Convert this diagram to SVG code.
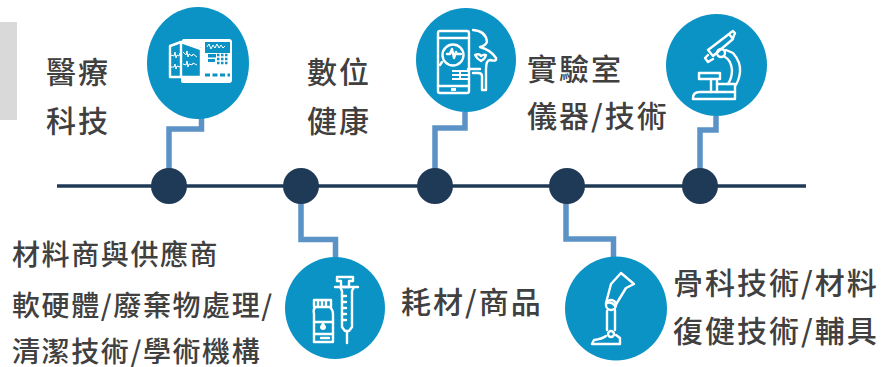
<svg xmlns="http://www.w3.org/2000/svg" width="885" height="367" viewBox="0 0 885 367">
<style>
.t{font-family:"Noto Sans CJK TC","Noto Sans",sans-serif;font-size:30px;font-weight:500;fill:#404040;letter-spacing:2px}
.s{font-size:28px;letter-spacing:1.600px}
.c{fill:#0a93c4}
.d{fill:#1f3a56}
.l{fill:none;stroke:#5b93c7;stroke-width:5.500}
.i{fill:none;stroke:#fff;stroke-width:2.400;stroke-linejoin:round;stroke-linecap:round}
.f{fill:#fff}
.w{fill:none;stroke:#fff;stroke-width:1}
</style>
<rect x="0" y="22" width="17" height="98" fill="#d9d9d9"/>
<g id="connectors">
<path class="l" d="M169 186V129H201.500V115"/>
<path class="l" d="M301 186V239.500H335.500V258"/>
<path class="l" d="M435 186V128H465V112"/>
<path class="l" d="M566 186V239H613.500V257"/>
<path class="l" d="M700 186V130H716V116"/>
<path d="M57 186H806" fill="none" stroke="#1f3a56" stroke-width="3.500"/>
</g>
<g id="dot1"><circle class="d" cx="169" cy="186" r="18"/></g>
<g id="dot2"><circle class="d" cx="301" cy="186" r="18"/></g>
<g id="dot3"><circle class="d" cx="435" cy="186" r="18"/></g>
<g id="dot4"><circle class="d" cx="567" cy="186" r="18"/></g>
<g id="dot5"><circle class="d" cx="700" cy="186" r="18"/></g>
<g id="node-medtech">
<ellipse class="c" cx="198" cy="63" rx="51" ry="56"/>
<path class="f" d="M183 39H229Q232 39 232 42V80Q232 83 229 83H183Q181 83 181 81V76H202V48L181 42Z"/>
<rect x="205" y="42" width="25" height="11" class="c"/>
<path class="w" d="M207 47l2-3 2 5 2-4 2 3 2-4 2 4 2-3 2 3 2-2"/>
<rect x="208" y="54" width="8" height="3.500" style="fill:#0a93c4"/>
<rect x="208" y="59" width="7" height="3" style="fill:#0a93c4"/>
<path d="M217 55h12M217 59h12M217 63h12" stroke="#0a93c4" stroke-width="2.500" stroke-dasharray="2.500 1.500" fill="none"/>
<path d="M205 75h25" stroke="#0a93c4" stroke-width="3" stroke-dasharray="5 2.500" fill="none"/>
<path class="i" d="M170 46L181 42V77L170 77ZM181 42L201 49V77L181 77" stroke-width="1.800"/>
<path class="w" d="M171 55l3 1 1-4 1 6 1-3 2 1 1-3 1 3M183 52l3 3 1-4 1 6 1-3 3 2 1-2 4 3M171 67l3 0 1-3 1 5 1-3 3 1M183 64l3 1 1-4 1 6 1-3 3 1 1-2 4 2"/>
</g>
<g id="node-digital">
<ellipse class="c" cx="466" cy="60" rx="50" ry="52"/>
<rect class="i" x="438" y="31" width="31" height="62" rx="2"/>
<path class="i" d="M438 38H469M438 86H469" stroke-width="1.800"/>
<rect x="451" y="88" width="5" height="3" class="f"/>
<circle class="i" cx="453" cy="55" r="10.500"/>
<path class="i" d="M442 62L440 65M447 54h3l2-5 2 9 2-6 1 2h4" stroke-width="1.800"/>
<path d="M452 71H468M452 75H468M452 79H468M460 71V79" stroke="#fff" stroke-width="2" fill="none"/>
<path class="i" d="M473 30Q486 31 487 42Q485 46 480 47Q491 50 496 58Q497 62 490 60Q486 60 486 70V90H482V76Q482 73 478 73H473" stroke-width="2"/>
<path class="i" d="M475 55Q479 53 481 56Q484 54 486 55Q485 59 481 61Q477 59 475 55Z" stroke-width="1.800"/>
<path class="i" d="M468 69H480" stroke-width="2"/>
</g>
<g id="node-lab">
<ellipse class="c" cx="716.500" cy="65" rx="50.500" ry="51"/>
<path class="i" d="M708 50L729 34L733 39L713 56Z"/>
<path class="i" d="M730 33L733 31L735 33L733 38M708 55L705 58L708 62L713 59"/>
<circle class="i" cx="721" cy="53" r="4"/>
<path class="i" d="M726 50L733 53Q741 62 740 72Q739 81 735 86"/>
<path class="i" d="M725 57Q731 60 732 70Q732 78 728 84"/>
<path class="i" d="M699 73H720V79H699Z"/>
<path class="i" d="M711 79V92M717 79V92"/>
<path class="i" d="M693 98Q693 92 700 92H735V99H693Z"/>
<path class="i" d="M717 84H735V92"/>
</g>
<g id="node-consumables">
<ellipse class="c" cx="335" cy="308" rx="50" ry="51"/>
<path class="i" d="M337 277H353V281H349V287H341V281H337Z" stroke-width="2"/>
<path class="i" d="M335 287H358M340 287L342 291V327L345 331H349L352 327V291L354 287" stroke-width="2"/>
<path class="i" d="M342 296h4M342 302h4M342 308h4M342 314h4M342 320h4" stroke-width="1.800"/>
<path class="i" d="M347 331V343" stroke-width="2"/>
<path class="i" d="M314 300H331V307H314ZM315 307H330Q333 310 333 314V342H314V314Q313 310 315 307Z" stroke-width="2"/>
<path class="i" d="M318 301V306M322 301V306M326 301V306M314 322H333M314 334H333M321 338H329" stroke-width="1.600"/>
<path d="M323 322Q320 326 320 327a3 3 0 0 0 6 0Q326 326 323 322Z" class="f"/>
</g>
<g id="node-ortho">
<ellipse class="c" cx="616" cy="308.500" rx="51" ry="52"/>
<path class="i" d="M621 273L634 284L626 288L615 306Q612 301 606 303L611 284Z"/>
<circle class="i" cx="611" cy="305" r="5"/>
<path class="i" d="M607 311L607 330M615 310L615 330"/>
<circle class="i" cx="611" cy="334" r="3"/>
<path class="i" d="M606 336Q602 339 594 340L592 344H620V338L616 335"/>
</g>
<g id="label-medtech"><text class="t" x="46" y="83">醫療</text><text class="t" x="46" y="132">科技</text></g>
<g id="label-digital"><text class="t" x="307" y="83">數位</text><text class="t" x="307" y="132">健康</text></g>
<g id="label-lab"><text class="t" x="527" y="80">實驗室</text><text class="t" x="527" y="127">儀器/技術</text></g>
<g id="label-supply"><text class="t s" x="12" y="265">材料商與供應商</text><text class="t s" x="12" y="316">軟硬體/廢棄物處理/</text><text class="t s" x="12" y="362">清潔技術/學術機構</text></g>
<g id="label-consumables"><text class="t" x="401" y="313">耗材/商品</text></g>
<g id="label-ortho"><text class="t" x="673" y="294">骨科技術/材料</text><text class="t" x="673" y="342">復健技術/輔具</text></g>
</svg>
